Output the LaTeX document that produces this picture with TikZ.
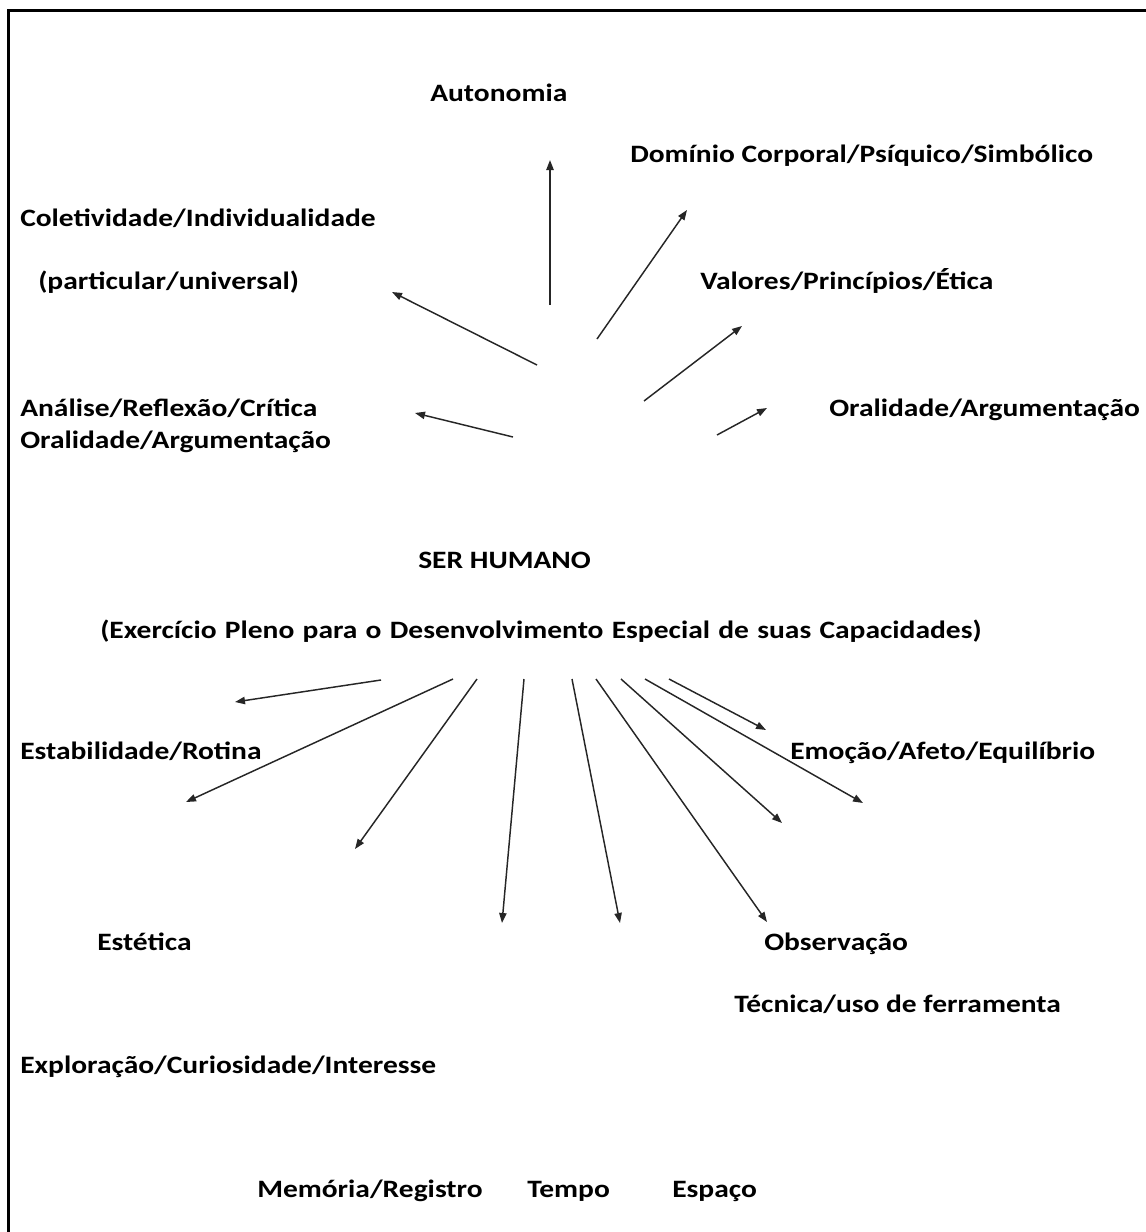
\documentclass[tikz,border=0pt]{standalone}
\usepackage{fontspec}
\newfontfamily\lbl[FakeStretch=1.18]{Carlito}
\usetikzlibrary{arrows.meta}
\begin{document}
\begin{tikzpicture}[x=0.75pt,y=-0.75pt,
  lab/.style={inner sep=0pt, anchor=base west, text=black,
    font={\lbl\bfseries\fontsize{18.75pt}{22pt}\selectfont}},
  arr/.style={draw=black!85, line width=1.1pt, -{Triangle[length=7.5pt,width=5.5pt]}},
  framestyle/.style={line width=2.25pt, line join=miter}]
\useasboundingbox (0,0) rectangle (1146,1232);
% frame (top and left edges)
\coordinate (fb) at (8.5,1232);
\coordinate (fc) at (8.5,10.5);
\coordinate (fr) at (1146,10.5);
\draw[framestyle] (fb) -- (fc) -- (fr);

% labels
\node[lab] (aut) at (430,101) {Autonomia};
\node[lab] (dom) at (630,162) {Domínio Corporal/Psíquico/Simbólico};
\node[lab] (col) at (20,226) {Coletividade/Individualidade};
\node[lab] (par) at (38,289) {(particular/universal)};
\node[lab] (val) at (700,289) {Valores/Princípios/Ética};
\node[lab] (ana) at (20,416) {Análise/Reflexão/Crítica};
\node[lab] (oral) at (20,448) {Oralidade/Argumentação};
\node[lab] (orar) at (829,416) {Oralidade/Argumentação};
\node[lab] (ser) at (418,568) {SER HUMANO};
\node[lab] (exe) at (100,638) {\spaceskip=6.2pt (Exercício Pleno para o Desenvolvimento Especial de suas Capacidades)};
\node[lab] (est) at (20,759) {Estabilidade/Rotina};
\node[lab] (emo) at (790,759) {Emoção/Afeto/Equilíbrio};
\node[lab] (ete) at (97,950) {Estética};
\node[lab] (obs) at (764,950) {Observação};
\node[lab] (tec) at (734,1012) {Técnica/uso de ferramenta};
\node[lab] (exp) at (20,1073) {Exploração/Curiosidade/Interesse};
\node[lab] (mem) at (257,1197) {Memória/Registro};
\node[lab] (tem) at (527,1197) {Tempo};
\node[lab] (esp) at (672,1197) {Espaço};

% upper arrows
\coordinate (u1s) at (550,305); \coordinate (u1e) at (550,160);
\coordinate (u2s) at (597,339); \coordinate (u2e) at (687,210);
\coordinate (u3s) at (537,365); \coordinate (u3e) at (392,292);
\coordinate (u4s) at (644,401); \coordinate (u4e) at (742,326);
\coordinate (u5s) at (513,437); \coordinate (u5e) at (415,413);
\coordinate (u6s) at (717,435); \coordinate (u6e) at (767,408);
\foreach \i in {1,...,6} {\draw[arr] (u\i s) -- (u\i e);}

% lower arrows
\coordinate (d1s) at (381,680); \coordinate (d1e) at (235,702);
\coordinate (d2s) at (453,679); \coordinate (d2e) at (186,802);
\coordinate (d3s) at (477,679); \coordinate (d3e) at (355,849);
\coordinate (d4s) at (524,679); \coordinate (d4e) at (502,923);
\coordinate (d5s) at (572,679); \coordinate (d5e) at (620,923);
\coordinate (d6s) at (596,679); \coordinate (d6e) at (767,922);
\coordinate (d7s) at (621,679); \coordinate (d7e) at (782,823);
\coordinate (d8s) at (645,679); \coordinate (d8e) at (863,803);
\coordinate (d9s) at (669,679); \coordinate (d9e) at (766,730);
\foreach \i in {1,...,9} {\draw[arr] (d\i s) -- (d\i e);}
\end{tikzpicture}
\end{document}
